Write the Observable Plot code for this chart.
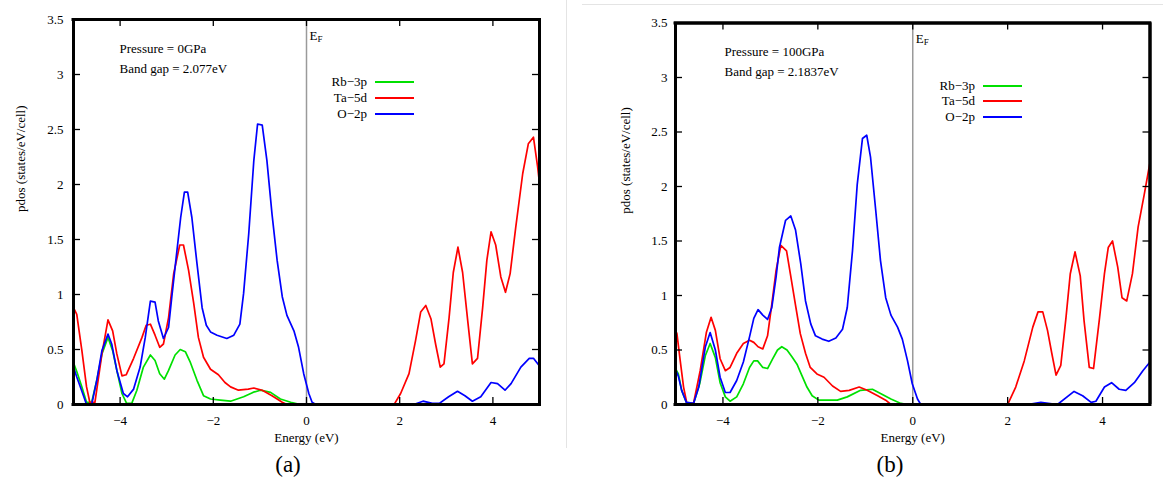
<!DOCTYPE html>
<html><head><meta charset="utf-8">
<script src="https://cdn.jsdelivr.net/npm/d3@7"></script>
<script src="https://cdn.jsdelivr.net/npm/@observablehq/plot@0.6"></script>
<style>
html,body{margin:0;padding:0;background:#fff;}
body{width:1163px;height:479px;position:relative;overflow:hidden;font-family:"Liberation Serif","Times New Roman",serif;color:#000;}
.panel{position:absolute;top:0;height:446px;overflow:hidden;}
#pa{left:0;width:566px;}
#pb{left:566px;width:597px;}
.divv{position:absolute;left:566px;top:0;width:1px;height:448px;background:#e4e4e4;}
.divh{position:absolute;left:582px;top:4px;width:581px;height:1px;background:#e4e4e4;}
.cap{position:absolute;top:450px;width:80px;text-align:center;font-size:23px;line-height:30px;}
.lg{position:absolute;font-size:13px;line-height:16px;text-align:right;width:90px;}
.sw{position:absolute;height:2px;width:39px;}
</style></head>
<body>
<div class="divv"></div><div class="divh"></div>
<div id="pa" class="panel"></div>
<div id="pb" class="panel"></div>
<div class="cap" style="left:248px">(a)</div>
<div class="cap" style="left:850px">(b)</div>
<div id="legends"></div>
<script>
// ---- tick labels / categories ----
const energyTicks = [-4, -2, 0, 2, 4];
const pdosTicks = [0, 0.5, 1, 1.5, 2, 2.5, 3, 3.5];
const energyDomain = [-5, 5];
const pdosDomain = [0, 3.5];
const orbitals = ["Rb\u22123p", "Ta\u22125d", "O\u22122p"];
const colors = ["#00e000", "#ff0000", "#0000ff"];
const pressures = ["Pressure = 0GPa", "Pressure = 100GPa"];
const bandGaps = ["Band gap = 2.077eV", "Band gap = 2.1837eV"];

// ---- panel (a): 0 GPa, [energy eV, pdos] ----
const a_Rb3p = [[-5.0,0.38],[-4.93,0.30],[-4.82,0.16],[-4.72,0.02],[-4.61,0.02],[-4.5,0.22],[-4.39,0.46],[-4.26,0.61],[-4.16,0.49],[-4.07,0.31],[-3.96,0.10],[-3.86,0.01],[-3.75,0.01],[-3.64,0.13],[-3.50,0.34],[-3.35,0.45],[-3.25,0.40],[-3.15,0.28],[-3.05,0.23],[-2.96,0.31],[-2.82,0.45],[-2.71,0.50],[-2.60,0.48],[-2.49,0.38],[-2.35,0.22],[-2.21,0.08],[-2.06,0.05],[-1.85,0.04],[-1.63,0.03],[-1.35,0.07],[-1.15,0.11],[-0.99,0.13],[-0.77,0.11],[-0.56,0.05],[-0.34,0.02],[-0.13,0.0],[5.0,0.0]];
const a_Ta5d = [[-5.0,0.88],[-4.93,0.82],[-4.82,0.49],[-4.72,0.16],[-4.65,0.02],[-4.54,0.02],[-4.39,0.46],[-4.26,0.77],[-4.16,0.67],[-4.07,0.46],[-3.96,0.26],[-3.87,0.27],[-3.71,0.42],[-3.53,0.61],[-3.44,0.72],[-3.35,0.73],[-3.25,0.63],[-3.15,0.52],[-3.07,0.55],[-2.96,0.79],[-2.85,1.19],[-2.72,1.45],[-2.64,1.45],[-2.53,1.22],[-2.42,0.92],[-2.32,0.61],[-2.21,0.43],[-2.06,0.32],[-1.89,0.27],[-1.75,0.20],[-1.63,0.16],[-1.46,0.13],[-1.25,0.14],[-1.13,0.15],[-0.95,0.13],[-0.74,0.08],[-0.52,0.02],[-0.42,0.0],[1.88,0.0],[2.02,0.10],[2.20,0.28],[2.34,0.58],[2.45,0.84],[2.56,0.90],[2.67,0.78],[2.77,0.55],[2.87,0.34],[2.95,0.37],[3.06,0.79],[3.15,1.20],[3.25,1.43],[3.35,1.20],[3.46,0.76],[3.56,0.37],[3.67,0.42],[3.78,0.88],[3.87,1.31],[3.96,1.57],[4.06,1.45],[4.17,1.16],[4.27,1.02],[4.37,1.19],[4.49,1.61],[4.64,2.10],[4.76,2.37],[4.87,2.43],[4.96,2.16],[5.0,2.01]];
const a_O2p = [[-5.0,0.34],[-4.93,0.25],[-4.82,0.12],[-4.72,0.0],[-4.61,0.0],[-4.5,0.22],[-4.39,0.49],[-4.26,0.64],[-4.18,0.55],[-4.07,0.31],[-3.93,0.10],[-3.84,0.07],[-3.71,0.14],[-3.57,0.34],[-3.46,0.61],[-3.35,0.94],[-3.25,0.93],[-3.18,0.76],[-3.07,0.60],[-2.96,0.70],[-2.89,0.98],[-2.78,1.40],[-2.70,1.70],[-2.62,1.93],[-2.55,1.93],[-2.46,1.70],[-2.35,1.28],[-2.24,0.88],[-2.15,0.72],[-2.06,0.66],[-1.92,0.63],[-1.71,0.60],[-1.56,0.63],[-1.43,0.73],[-1.35,1.01],[-1.24,1.55],[-1.13,2.22],[-1.05,2.55],[-0.95,2.54],[-0.85,2.22],[-0.74,1.73],[-0.63,1.31],[-0.52,0.98],[-0.42,0.81],[-0.27,0.67],[-0.17,0.52],[-0.06,0.28],[0.05,0.10],[0.12,0.02],[0.2,0.0],[2.3,0.0],[2.5,0.03],[2.7,0.01],[2.85,0.01],[3.05,0.07],[3.24,0.12],[3.40,0.08],[3.56,0.03],[3.74,0.07],[3.96,0.20],[4.10,0.19],[4.26,0.13],[4.39,0.19],[4.60,0.34],[4.78,0.42],[4.87,0.42],[5.0,0.35]];

// ---- panel (b): 100 GPa ----
const b_Rb3p = [[-5.0,0.33],[-4.94,0.28],[-4.87,0.13],[-4.77,0.02],[-4.62,0.01],[-4.49,0.19],[-4.37,0.45],[-4.27,0.56],[-4.16,0.43],[-4.06,0.20],[-3.95,0.07],[-3.85,0.03],[-3.71,0.07],[-3.57,0.19],[-3.44,0.34],[-3.35,0.40],[-3.27,0.40],[-3.16,0.34],[-3.06,0.33],[-2.95,0.42],[-2.85,0.50],[-2.76,0.53],[-2.65,0.50],[-2.55,0.44],[-2.44,0.37],[-2.34,0.27],[-2.23,0.16],[-2.12,0.08],[-1.98,0.04],[-1.59,0.04],[-1.38,0.07],[-1.10,0.13],[-0.85,0.14],[-0.68,0.10],[-0.46,0.05],[-0.25,0.01],[-0.1,0.0],[5.0,0.0]];
const b_Ta5d = [[-5.0,0.68],[-4.97,0.65],[-4.90,0.40],[-4.83,0.16],[-4.76,0.01],[-4.62,0.01],[-4.48,0.31],[-4.35,0.66],[-4.25,0.80],[-4.16,0.68],[-4.06,0.42],[-3.95,0.31],[-3.85,0.34],[-3.71,0.47],[-3.57,0.56],[-3.44,0.59],[-3.35,0.57],[-3.26,0.53],[-3.16,0.51],[-3.06,0.63],[-2.97,0.92],[-2.88,1.23],[-2.78,1.46],[-2.66,1.41],[-2.58,1.20],[-2.47,0.91],[-2.37,0.65],[-2.26,0.47],[-2.16,0.34],[-2.02,0.28],[-1.87,0.25],[-1.69,0.17],[-1.52,0.12],[-1.34,0.13],[-1.13,0.16],[-0.96,0.13],[-0.74,0.08],[-0.57,0.04],[-0.46,0.0],[2.0,0.0],[2.17,0.16],[2.35,0.40],[2.53,0.71],[2.64,0.85],[2.74,0.85],[2.84,0.68],[2.93,0.47],[3.02,0.27],[3.12,0.36],[3.23,0.80],[3.32,1.20],[3.42,1.40],[3.53,1.18],[3.61,0.77],[3.72,0.34],[3.81,0.33],[3.93,0.77],[4.04,1.20],[4.12,1.44],[4.21,1.50],[4.32,1.26],[4.41,0.98],[4.51,0.95],[4.63,1.20],[4.75,1.63],[4.88,1.93],[5.0,2.22]];
const b_O2p = [[-5.0,0.32],[-4.94,0.26],[-4.87,0.13],[-4.77,0.02],[-4.62,0.01],[-4.51,0.16],[-4.37,0.53],[-4.27,0.66],[-4.16,0.50],[-4.06,0.25],[-3.95,0.11],[-3.85,0.11],[-3.71,0.22],[-3.57,0.39],[-3.44,0.62],[-3.35,0.79],[-3.26,0.87],[-3.16,0.82],[-3.06,0.78],[-2.97,0.89],[-2.88,1.17],[-2.81,1.44],[-2.68,1.69],[-2.57,1.73],[-2.47,1.60],[-2.36,1.29],[-2.26,0.95],[-2.15,0.74],[-2.05,0.63],[-1.91,0.60],[-1.77,0.58],[-1.62,0.61],[-1.48,0.69],[-1.38,0.89],[-1.27,1.41],[-1.17,2.02],[-1.06,2.44],[-0.97,2.47],[-0.89,2.27],[-0.78,1.78],[-0.68,1.32],[-0.57,0.98],[-0.46,0.82],[-0.32,0.71],[-0.22,0.60],[-0.11,0.40],[-0.01,0.19],[0.10,0.05],[0.17,0.0],[2.42,0.0],[2.70,0.02],[3.05,0.0],[3.40,0.12],[3.58,0.08],[3.76,0.02],[3.86,0.03],[4.04,0.16],[4.19,0.20],[4.35,0.14],[4.49,0.13],[4.67,0.20],[4.85,0.31],[5.0,0.39]];

const fmtE = d => d < 0 ? "\u2212" + Math.abs(d) : String(d);
const fmtV = d => String(d);
const TICK = 7;
const FONT = '"Liberation Serif", "Times New Roman", serif';
const STYLE = 'font-family: "Liberation Serif", "Times New Roman", serif; font-size: 13px; background: transparent; color: black;';
const INK = "black";

function makePanel(cfg) {
  const rows = [];
  cfg.series.forEach((s, i) => s.forEach(([E, v]) => rows.push({orbital: orbitals[i], E, v})));
  const H = 446, MB = 42;
  const fw = cfg.width - cfg.ml - cfg.mr;
  const fh = H - cfg.mt - MB;
  const txt = {fontFamily: FONT, fontSize: 13, fill: INK};
  return Plot.plot({
    width: cfg.width, height: H,
    marginLeft: cfg.ml, marginRight: cfg.mr, marginTop: cfg.mt, marginBottom: MB,
    style: STYLE,
    x: {domain: energyDomain},
    y: {domain: pdosDomain},
    color: {domain: orbitals, range: colors},
    marks: [
      Plot.ruleX([0], {stroke: "#9a9a9a", strokeWidth: 1.5}),
      Plot.line(rows, {x: "E", y: "v", z: "orbital", stroke: "orbital", strokeWidth: 1.7, clip: true}),
      // inward ticks on all four sides
      Plot.tickX(energyTicks, {x: d => d, insetTop: fh - TICK, stroke: INK, strokeWidth: 1.3}),
      Plot.tickX(energyTicks, {x: d => d, insetBottom: fh - TICK, stroke: INK, strokeWidth: 1.3}),
      Plot.tickY(pdosTicks, {y: d => d, insetRight: fw - TICK, stroke: INK, strokeWidth: 1.3}),
      Plot.tickY(pdosTicks, {y: d => d, insetLeft: fw - TICK, stroke: INK, strokeWidth: 1.3}),
      Plot.axisX(energyTicks, {anchor: "bottom", tickSize: 0, tickPadding: 11, tickFormat: fmtE, label: null, ...txt}),
      Plot.axisY(pdosTicks, {anchor: "left", tickSize: 0, tickPadding: cfg.ypad, tickFormat: fmtV, label: null, ...txt}),
      // thick plot border (frame plus domain-edge rules)
      Plot.ruleX(energyDomain, {x: d => d, stroke: INK, strokeWidth: 3}),
      Plot.ruleY(pdosDomain, {y: d => d, x1: energyDomain[0], x2: energyDomain[1], stroke: INK, strokeWidth: 3, strokeLinecap: "square"}),
      Plot.frame({stroke: INK, strokeWidth: 3}),
      Plot.text([cfg.pressure], {frameAnchor: "top-left", textAnchor: "start", dx: cfg.annDx, dy: cfg.annDy, ...txt}),
      Plot.text([cfg.gap], {frameAnchor: "top-left", textAnchor: "start", dx: cfg.annDx, dy: cfg.annDy + 20, ...txt}),
      Plot.text(["E"], {x: () => 0, frameAnchor: "top", textAnchor: "start", dx: 3, dy: 11, ...txt}),
      Plot.text(["F"], {x: () => 0, frameAnchor: "top", textAnchor: "start", dx: 11, dy: 16, ...txt, fontSize: 9}),
      Plot.text(["pdos (states/eV/cell)"], {frameAnchor: "left", rotate: -90, dx: cfg.ylabDx, ...txt}),
      Plot.text(["Energy (eV)"], {frameAnchor: "bottom", dy: 37, ...txt})
    ]
  });
}

const panels = [
  {id: "pa", width: 566, ml: 73, mr: 27, mt: 19, ypad: 10, ylabDx: -53, annDx: 46, annDy: 24,
   series: [a_Rb3p, a_Ta5d, a_O2p], pressure: pressures[0], gap: bandGaps[0],
   legend: {textRight: 367, lineLeft: 375, rows: [82, 98, 114]}},
  {id: "pb", width: 597, ml: 109, mr: 13.5, mt: 22.5, ypad: 8, ylabDx: -50, annDx: 49, annDy: 23.5,
   series: [b_Rb3p, b_Ta5d, b_O2p], pressure: pressures[1], gap: bandGaps[1],
   legend: {textRight: 975, lineLeft: 983, rows: [86, 101, 117]}}
];

const lgRoot = document.getElementById("legends");
panels.forEach(cfg => {
  const chart = makePanel(cfg);
  document.getElementById(cfg.id).appendChild(chart);
  void chart.getBoundingClientRect();
  orbitals.forEach((name, i) => {
    const t = document.createElement("div");
    t.className = "lg";
    t.textContent = name;
    t.style.left = (cfg.legend.textRight - 90) + "px";
    t.style.top = (cfg.legend.rows[i] - 8) + "px";
    lgRoot.appendChild(t);
    const s = document.createElement("div");
    s.className = "sw";
    s.style.left = cfg.legend.lineLeft + "px";
    s.style.top = (cfg.legend.rows[i] - 1) + "px";
    s.style.background = colors[i];
    lgRoot.appendChild(s);
  });
});
</script>
</body></html>
